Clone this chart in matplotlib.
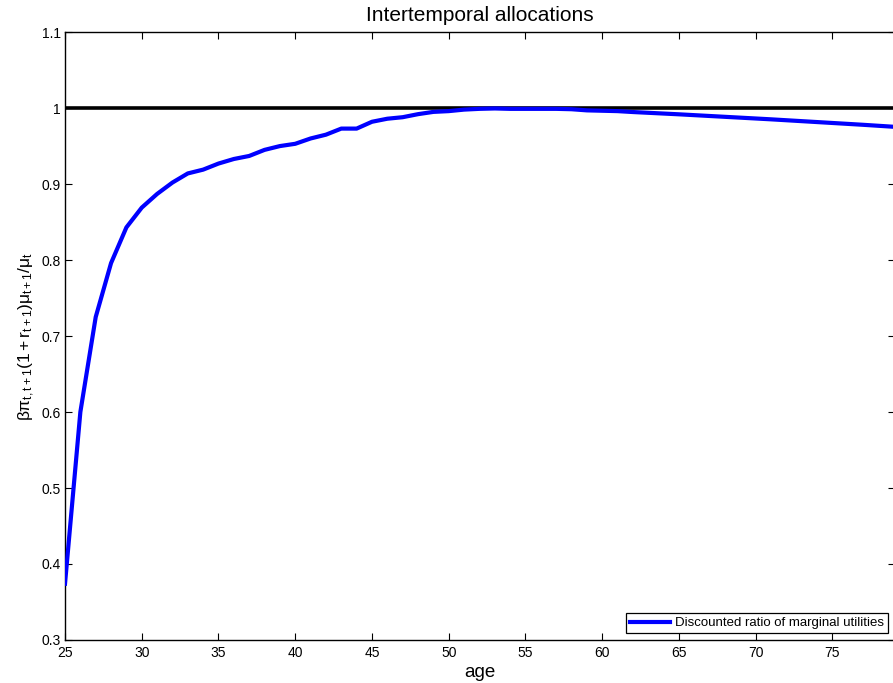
import numpy as np
import matplotlib
matplotlib.use('Agg')
import matplotlib.pyplot as plt

plt.rcParams['font.family'] = ['Liberation Sans', 'DejaVu Sans']
plt.rcParams['mathtext.fontset'] = 'custom'
plt.rcParams['mathtext.rm'] = 'Liberation Sans'
plt.rcParams['mathtext.it'] = 'Liberation Sans'

# discounted ratio of marginal utilities by age
ages = np.arange(25, 80)
ratio = [
    0.374, 0.600, 0.725, 0.796, 0.843, 0.869, 0.887, 0.902, 0.914, 0.919,
    0.927, 0.933, 0.937, 0.945, 0.950, 0.953, 0.960, 0.965, 0.973, 0.973,
    0.982, 0.986, 0.988, 0.992, 0.995, 0.996, 0.998, 0.999, 0.9995, 0.999,
    0.999, 0.999, 0.999, 0.9985, 0.997, 0.9965, 0.996, 0.9948, 0.9938, 0.9928,
    0.9918, 0.9907, 0.9896, 0.9885, 0.9874, 0.9863, 0.9852, 0.9840, 0.9828, 0.9816,
    0.9804, 0.9792, 0.9780, 0.9767, 0.9754,
]
benchmark = 1.0

x_ticks = [25, 30, 35, 40, 45, 50, 55, 60, 65, 70, 75]
y_ticks = [0.3, 0.4, 0.5, 0.6, 0.7, 0.8, 0.9, 1.0, 1.1]
y_ticklabels = ['0.3', '0.4', '0.5', '0.6', '0.7', '0.8', '0.9', '1', '1.1']

fig = plt.figure(figsize=(8.93, 6.83), dpi=100)
ax = fig.add_axes([0.0728, 0.063, 0.929, 0.890])

line, = ax.plot(ages, ratio, color=(0, 0, 1), linewidth=3.0,
                label='Discounted ratio of marginal utilities', zorder=3)
ax.axhline(benchmark, color='black', linewidth=2.6, zorder=2)

ax.set_xlim(25, 79.05)
ax.set_ylim(0.3, 1.1)
ax.set_xticks(x_ticks)
ax.set_yticks(y_ticks)
ax.set_yticklabels(y_ticklabels)
ax.tick_params(direction='in', length=5, width=0.8, labelsize=10,
               top=True, right=True)
ax.tick_params(axis='x', pad=4)
ax.tick_params(axis='y', pad=3)
for sp in ax.spines.values():
    sp.set_linewidth(1.0)

ax.set_title('Intertemporal allocations', fontsize=15, pad=8)
ax.set_xlabel('age', fontsize=13.5, labelpad=3)
ax.set_ylabel(r'$\beta\pi_{t,t+1}(1+r_{t+1})\mu_{t+1}/\mu_t$', fontsize=12.5, labelpad=3)

leg = ax.legend(handles=[line], loc='lower right', fontsize=9.5, fancybox=False,
                edgecolor='black', framealpha=1, handlelength=3.0,
                borderpad=0.3, handletextpad=0.4, borderaxespad=0.5)
leg.get_frame().set_linewidth(0.9)

fig.savefig('out.png', dpi=100)
